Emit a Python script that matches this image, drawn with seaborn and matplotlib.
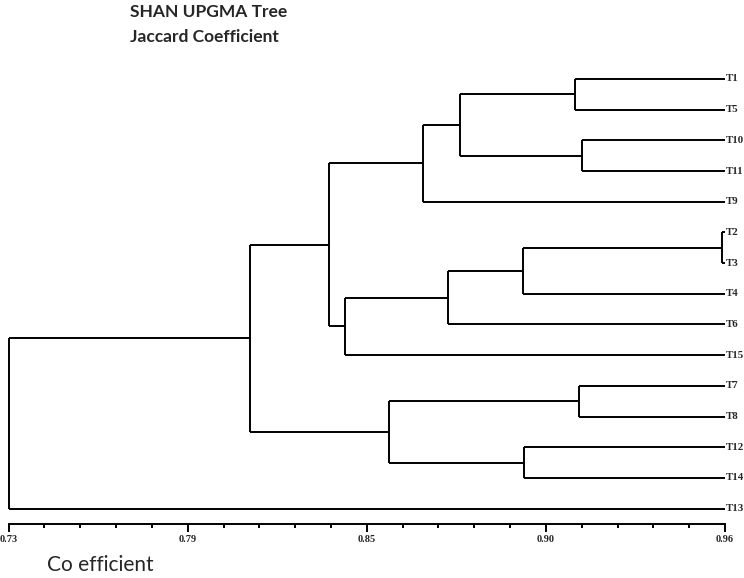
import numpy as np
import pandas as pd
import seaborn as sns
import matplotlib.pyplot as plt

# leaf order top -> bottom
leaves = ["T1", "T5", "T10", "T11", "T9", "T2", "T3", "T4", "T6", "T15",
          "T7", "T8", "T12", "T14", "T13"]

# UPGMA joins (Jaccard similarity), clusters named C1, C2, ... in order
join_left = ["T2", "T10", "T7", "T1", "C1", "T12", "C4", "C5", "C7", "C3",
             "C8", "C9", "C12", "C13"]
join_right = ["T3", "T11", "T8", "T5", "T4", "T14", "C2", "T6", "T9", "C6",
              "T15", "C11", "C10", "T13"]
join_sim = [0.959, 0.914, 0.913, 0.912, 0.895, 0.8955, 0.875, 0.871, 0.863,
            0.852, 0.838, 0.833, 0.8075, 0.73]

axis_min, axis_max = 0.73, 0.96
tick_labels = ["0.73", "0.79", "0.85", "0.90", "0.96"]

# node positions
pos = {name: (axis_max, i) for i, name in enumerate(leaves)}
rows = []
seg = 0
for k, (a, b, s) in enumerate(zip(join_left, join_right, join_sim)):
    xa, ya = pos[a]
    xb, yb = pos[b]
    for x0, y0 in [(xa, ya), (xb, yb)]:
        rows += [(seg, x0, y0), (seg, s, y0)]
        seg += 1
    rows += [(seg, s, ya), (seg, s, yb)]
    seg += 1
    pos[f"C{k + 1}"] = (s, (ya + yb) / 2)

df = pd.DataFrame(rows, columns=["seg", "x", "y"])

sns.set_style("white")
fig = plt.figure(figsize=(7.44, 5.78), dpi=100)
ax = fig.add_axes([8.6 / 744, 1 - 524 / 578, (725 - 8.6) / 744, (524 - 63.6) / 578])

sns.lineplot(data=df, x="x", y="y", units="seg", estimator=None, sort=False,
             color="black", lw=1.4, legend=False, ax=ax)
for line in ax.lines:
    line.set_clip_on(False)
    line.set_solid_capstyle("butt")

ax.set_xlim(axis_min, axis_max)
ax.set_ylim(len(leaves) - 0.5, -0.5)
ax.set_xlabel("")
ax.set_ylabel("")
ax.set_yticks([])
for sp in ["left", "top", "right"]:
    ax.spines[sp].set_visible(False)
ax.spines["bottom"].set_linewidth(1.4)
ax.spines["bottom"].set_color("black")

ax.set_xticks(np.linspace(axis_min, axis_max, 5))
ax.set_xticklabels(tick_labels, fontfamily="Liberation Serif", fontweight="bold",
                   fontsize=7.5)
ax.set_xticks(np.linspace(axis_min, axis_max, 21), minor=True)
ax.tick_params(axis="x", which="major", direction="out", length=6, width=1.4,
               color="black", pad=2, bottom=True)
ax.tick_params(axis="x", which="minor", direction="out", length=3, width=1.4,
               color="black", bottom=True)

for i, name in enumerate(leaves):
    ax.annotate(name, (axis_max, i), xytext=(0.5, 0), textcoords="offset points",
                va="center", ha="left", fontfamily="Liberation Serif",
                fontweight="bold", fontsize=7.8, annotation_clip=False)

fig.text(130 / 744, 1 - 12 / 578, "SHAN UPGMA Tree", fontfamily="Lato",
         fontweight="bold", fontsize=12.5, va="center", ha="left")
fig.text(130 / 744, 1 - 37 / 578, "Jaccard Coefficient", fontfamily="Lato",
         fontweight="bold", fontsize=12.5, va="center", ha="left")
fig.text(47 / 744, 1 - 565 / 578, "Co efficient", fontfamily="Lato",
         fontsize=15, va="center", ha="left")

fig.savefig("out.png", dpi=100)
